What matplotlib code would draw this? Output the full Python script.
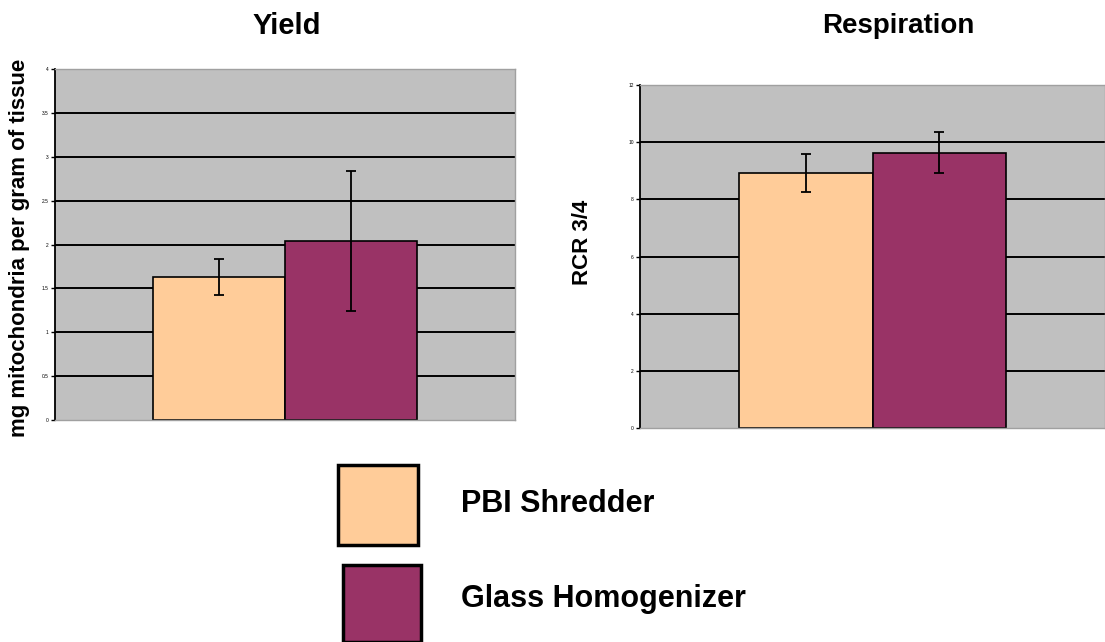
import matplotlib.pyplot as plt
from matplotlib.patches import Rectangle

plt.rcParams['font.family'] = ['Liberation Sans', 'DejaVu Sans']

# data
methods = ["PBI Shredder", "Glass Homogenizer"]
colors = ["#FFCC99", "#993366"]

yield_vals = [1.63, 2.04]
yield_err = [0.20, 0.80]
yield_ticks = [0, 0.5, 1, 1.5, 2, 2.5, 3, 3.5, 4]

resp_vals = [8.91, 9.63]
resp_err = [0.67, 0.72]
resp_ticks = [0, 2, 4, 6, 8, 10, 12]

W, H = 1105, 642


def draw_panel(ax, vals, errs, ticks):
    ax.set_facecolor("#C0C0C0")
    for t in ticks[1:-1]:
        ax.axhline(t, color="black", lw=1.4, zorder=1)
    ax.bar([0, 1], vals, width=1.0, color=colors, edgecolor="black",
           lw=1.2, zorder=2)
    ax.errorbar([0, 1], vals, yerr=errs, fmt="none", ecolor="black",
                elinewidth=1.3, capsize=3.5, capthick=1.3, zorder=3)
    ax.set_xlim(-1.24, 2.24)
    ax.set_ylim(ticks[0], ticks[-1])
    ax.set_yticks(ticks)
    ax.set_yticklabels([f"{t:g}" for t in ticks], fontsize=3.5)
    ax.tick_params(axis="y", length=3, width=1, pad=1.5)
    ax.set_xticks([])
    ax.spines["left"].set_color("black")
    ax.spines["left"].set_linewidth(1.3)
    for s in ["top", "right", "bottom"]:
        ax.spines[s].set_color("#A0A0A0")
        ax.spines[s].set_linewidth(1)


fig = plt.figure(figsize=(11.05, 6.42), dpi=100)

ax1 = fig.add_axes([0.0498, 0.3458, 0.4163, 0.5467])
draw_panel(ax1, yield_vals, yield_err, yield_ticks)
fig.text(287 / W, 1 - 26 / H, "Yield", fontsize=21, fontweight="bold",
         ha="center", va="center")
fig.text(20 / W, 1 - 248 / H, "mg mitochondria per gram of tissue",
         rotation=90, fontsize=16, fontweight="bold",
         ha="center", va="center")

ax2 = fig.add_axes([0.5792, 0.3333, 0.4208, 0.5343])
draw_panel(ax2, resp_vals, resp_err, resp_ticks)
fig.text(898 / W, 1 - 26 / H, "Respiration", fontsize=20, fontweight="bold",
         ha="center", va="center")
fig.text(582 / W, 1 - 242 / H, "RCR 3/4", rotation=90,
         fontsize=16, fontweight="bold", ha="center", va="center")

# legend squares
boxes = [(338, 465, 80, 80), (343, 565, 78, 77)]
text_y = [504, 599]
for (x, y, w, h), c, name, ty in zip(boxes, colors, methods, text_y):
    fig.add_artist(Rectangle((x / W, 1 - (y + h) / H), w / W, h / H,
                             transform=fig.transFigure, facecolor=c,
                             edgecolor="black", lw=2.5))
    fig.text(461 / W, 1 - ty / H, name, fontsize=22,
             fontweight="bold", ha="left", va="center")

fig.savefig("out.png", dpi=100)
